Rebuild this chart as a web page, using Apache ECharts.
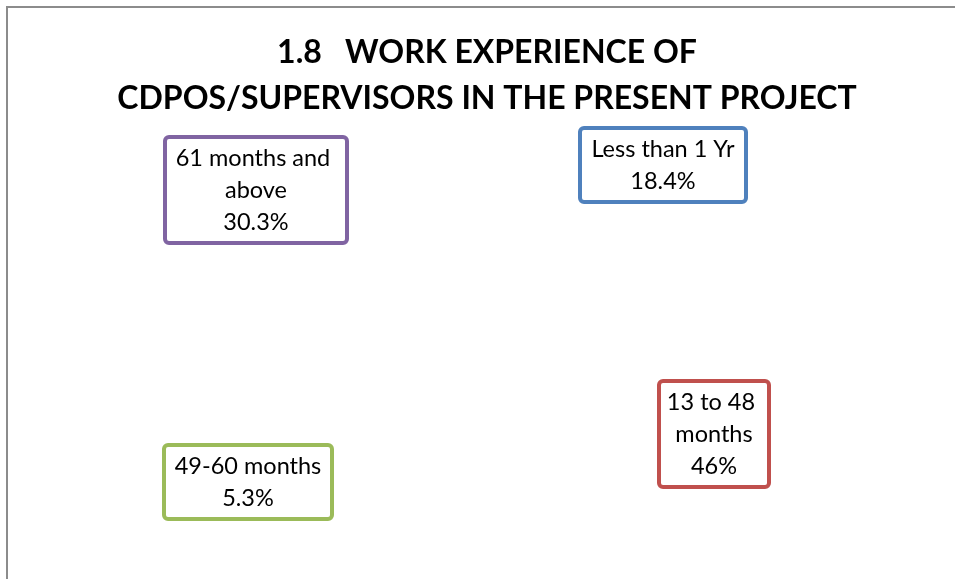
<!DOCTYPE html>
<html>
<head>
<meta charset="utf-8">
<script src="https://cdn.jsdelivr.net/npm/echarts@6/dist/echarts.min.js"></script>
<style>
  html, body { margin: 0; padding: 0; background: #fff; }
  #chart { width: 955px; height: 579px; }
</style>
</head>
<body>
<div id="chart"></div>
<script>
// data
const categories = ['Less than 1 Yr', '13 to 48 months', '49-60 months', '61 months and above']
const shares = [18.4, 46, 5.3, 30.3]
const shareLabels = ['18.4%', '46%', '5.3%', '30.3%']

// look of each label box
const boxColors = ['#4f81bd', '#c0504d', '#9bbb59', '#8064a2']
const boxWidths = [152, 96, 154, 168]
const boxCenters = [[663, 165], [714, 434], [248, 482], [256, 190]]

const myChart = echarts.init(document.getElementById('chart'))

myChart.setOption({
  backgroundColor: '#fff',
  animation: false,
  title: {
    text: '1.8   WORK EXPERIENCE OF\nCDPOS/SUPERVISORS IN THE PRESENT PROJECT',
    left: 482,
    top: 25,
    textAlign: 'center',
    textStyle: {
      fontFamily: 'Lato',
      fontWeight: 'bold',
      fontSize: 32,
      lineHeight: 46,
      color: '#000'
    }
  },
  graphic: [
    {
      type: 'polyline',
      shape: { points: [[7, 600], [7, 7], [970, 7]] },
      style: { stroke: '#8c8c8c', lineWidth: 2, fill: null }
    }
  ],
  series: [
    {
      type: 'pie',
      center: ['50%', '56%'],
      radius: '55%',
      startAngle: 90,
      clockwise: true,
      silent: true,
      itemStyle: { color: '#fff' },
      labelLine: { show: false },
      data: categories.map((name, i) => ({
        name: name,
        value: shares[i],
        label: {
          show: true,
          formatter: name + '\n' + shareLabels[i],
          width: boxWidths[i],
          overflow: 'break',
          align: 'center',
          fontFamily: 'Lato',
          fontSize: 23.5,
          lineHeight: 32,
          color: '#000',
          backgroundColor: '#fff',
          borderColor: boxColors[i],
          borderWidth: 4,
          borderRadius: 2,
          padding: [3, 5, 3, 5]
        }
      })),
      labelLayout: function (params) {
        const c = boxCenters[params.dataIndex]
        return {
          x: c[0],
          y: c[1],
          align: 'center',
          verticalAlign: 'middle'
        }
      }
    }
  ]
})

window.addEventListener('resize', () => { myChart.resize() })
</script>
</body>
</html>
